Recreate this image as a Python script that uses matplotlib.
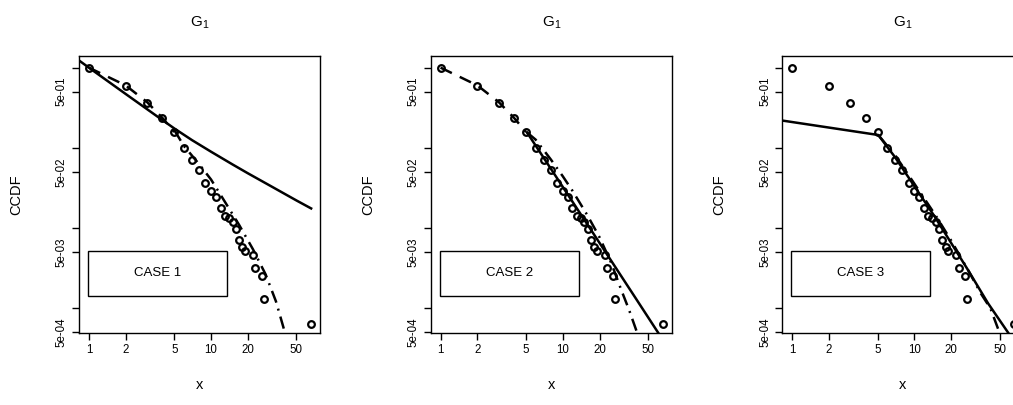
import matplotlib
matplotlib.use('Agg')
import matplotlib.pyplot as plt
from matplotlib.patches import Rectangle
from matplotlib.ticker import NullLocator

plt.rcParams['font.family'] = ['Liberation Sans', 'DejaVu Sans']
plt.rcParams['mathtext.fontset'] = 'custom'
plt.rcParams['mathtext.rm'] = 'Liberation Sans'
plt.rcParams['mathtext.it'] = 'Liberation Sans'

# ── Data ─────────────────────────────────────────────────────────────
# empirical CCDF points, same sample in every panel
x_obs = [1, 2, 3, 4, 5, 6, 7, 8, 9, 10, 11, 12, 13, 14, 15, 16, 17, 18, 19,
         22, 23, 26, 27, 66]
y_obs = [1.0, 0.596, 0.365, 0.235, 0.155, 0.100, 0.070, 0.052, 0.0365, 0.029,
         0.0244, 0.0178, 0.014, 0.0133, 0.0119, 0.0096, 0.0070, 0.0058, 0.0051,
         0.0045, 0.0031, 0.0025, 0.00128, 0.00062]

# body fit (dashed), cases 1 and 2
body_x = [1, 2, 3, 4, 5]
body_y = [1.0, 0.60, 0.37, 0.235, 0.157]

# case 1
c1_solid_x = [0.83, 1, 2, 3, 4, 5, 7, 10, 15, 20, 30, 50, 66]
c1_solid_y = [1.23, 1.0, 0.469, 0.302, 0.221, 0.174, 0.124, 0.089, 0.0617,
              0.0479, 0.0339, 0.0219, 0.0174]
c1_dd_x = [5, 6, 8, 10, 13, 17, 22, 28, 34, 40.4]
c1_dd_y = [0.166, 0.105, 0.062, 0.040, 0.021, 0.0108, 0.0054, 0.0026, 0.0012,
           0.00048]

# case 2
c2_solid_x = [5.1, 10, 20, 40, 60.8]
c2_solid_y = [0.155, 0.0324, 0.00646, 0.00128, 0.00048]
c2_dd_x = [5.1, 6, 8, 10, 12, 16, 20, 25, 30, 35, 40.4]
c2_dd_y = [0.155, 0.126, 0.071, 0.044, 0.029, 0.0141, 0.0076, 0.0036, 0.0017,
           0.00093, 0.0005]

# case 3
c3_solid_x = [0.8, 5.07, 6.9, 10.07, 14.7, 20.1, 27.5, 40.2, 60.4]
c3_solid_y = [0.22, 0.144, 0.0772, 0.0326, 0.0137, 0.00637, 0.00296, 0.00113,
              0.000456]
c3_dd_x = [5.07, 7, 10, 15, 20, 28, 35, 42, 50]
c3_dd_y = [0.144, 0.0794, 0.0355, 0.0141, 0.00692, 0.00282, 0.00151, 0.00098,
           0.00048]

cases = ['CASE 1', 'CASE 2', 'CASE 3']
yticks = [1, 0.5, 0.1, 0.05, 0.01, 0.005, 0.001, 0.0005]
ylabels = ['', '5e-01', '', '5e-02', '', '5e-03', '', '5e-04']
xticks = [1, 2, 5, 10, 20, 50]

panels = [
    dict(solid=(c1_solid_x, c1_solid_y), dashed=(body_x, body_y), dd=(c1_dd_x, c1_dd_y)),
    dict(solid=(c2_solid_x, c2_solid_y), dashed=(body_x, body_y), dd=(c2_dd_x, c2_dd_y)),
    dict(solid=(c3_solid_x, c3_solid_y), dashed=None, dd=(c3_dd_x, c3_dd_y)),
]

# ── Plot ─────────────────────────────────────────────────────────────
W, H = 1013, 405
fig = plt.figure(figsize=(W / 100, H / 100), dpi=100)
lefts = [79, 430.7, 782.3]
top, bottom, width = 55.7, 333, 241

for i, (left, p) in enumerate(zip(lefts, panels)):
    ax = fig.add_axes([left / W, 1 - bottom / H, width / W, (bottom - top) / H])
    ax.set_xscale('log')
    ax.set_yscale('log')

    ax.plot(*p['solid'], color='black', lw=1.8, solid_joinstyle='round')
    if p['dashed'] is not None:
        ax.plot(*p['dashed'], color='black', lw=1.8, dashes=(5, 3.5))
    ax.plot(*p['dd'], color='black', lw=1.8, dashes=(5, 2.5, 0.8, 2.5))
    ax.plot(x_obs, y_obs, 'o', mfc='none', mec='black', ms=4.8, mew=1.6)

    ax.set_xlim(0.83, 78)
    ax.set_ylim(4.83e-4, 1.41)

    ax.set_xticks(xticks)
    ax.set_xticklabels([str(t) for t in xticks])
    ax.set_yticks(yticks)
    ax.set_yticklabels(ylabels, rotation=90, va='center')
    ax.xaxis.set_minor_locator(NullLocator())
    ax.yaxis.set_minor_locator(NullLocator())
    ax.tick_params(direction='out', length=5, width=1, labelsize=8.3, pad=3)
    for s in ax.spines.values():
        s.set_linewidth(1)

    ax.text(0.5, 1.12, r'$\mathregular{G_1}$', transform=ax.transAxes,
            ha='center', va='center', fontsize=11)
    ax.set_xlabel('x', fontsize=10.5)
    ax.xaxis.set_label_coords(0.5, -0.162)
    ax.set_ylabel('CCDF', fontsize=10.5)
    ax.yaxis.set_label_coords(-0.232, 0.5)

    # case box
    ax.add_patch(Rectangle((0.037, 0.1345), 0.577, 0.1612, transform=ax.transAxes,
                           fill=False, edgecolor='black', lw=1))
    ax.text(0.3255, 0.2151, cases[i], transform=ax.transAxes,
            ha='center', va='center', fontsize=9.5)

fig.savefig('out.png', dpi=100)
